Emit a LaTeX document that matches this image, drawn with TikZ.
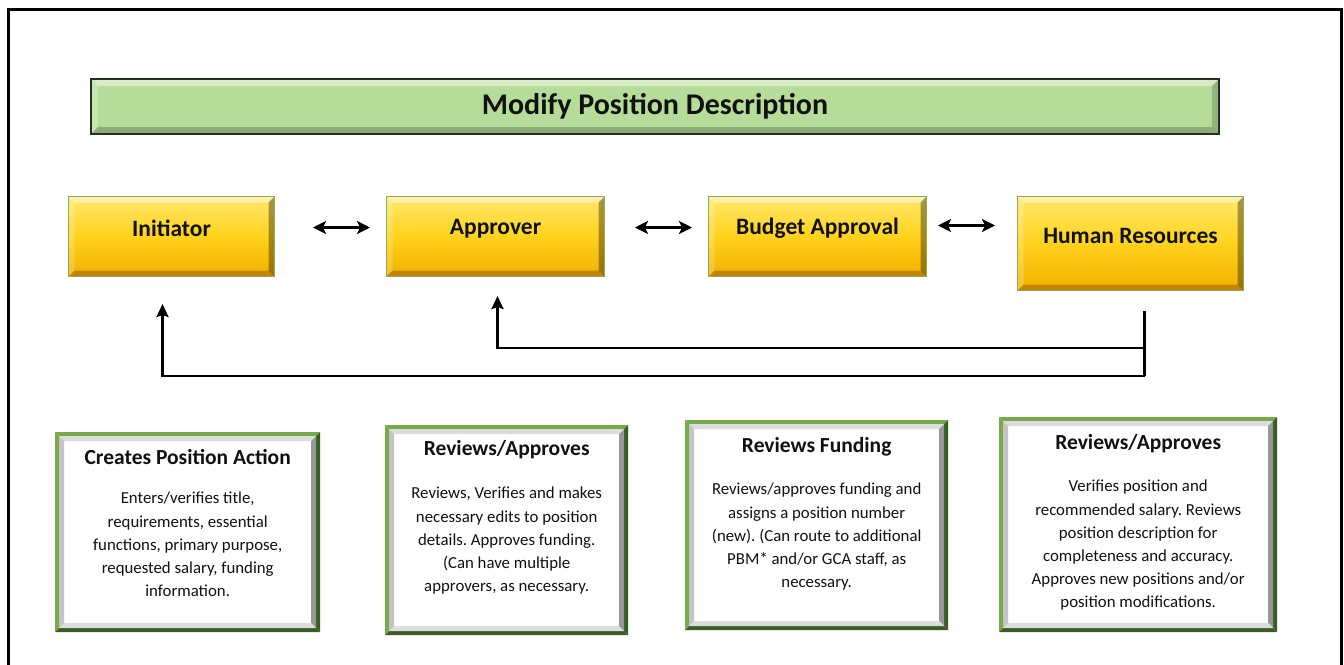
\documentclass[tikz,border=0pt]{standalone}
\usepackage{fontspec}
\setmainfont{Carlito}
\frenchspacing
\usetikzlibrary{arrows.meta,calc}

\definecolor{barFill}{HTML}{B5DC98}
\definecolor{barEdge}{HTML}{26301F}
\definecolor{yTop}{HTML}{FFE86E}
\definecolor{yMid}{HTML}{FFD21C}
\definecolor{yBot}{HTML}{F2B000}
\definecolor{yEdge}{HTML}{93A95A}
\definecolor{gLight}{HTML}{78AA4B}
\definecolor{gDark}{HTML}{3B5C25}
\definecolor{frLight}{HTML}{DCDCDC}
\definecolor{frMid}{HTML}{C4C4C4}
\definecolor{frDark}{HTML}{979797}
\definecolor{ink}{HTML}{111111}

% four bevel trapezoids between two insets of the current path picture
\newcommand\bevelring[6]{%
  \coordinate (ppA) at ([xshift=#1,yshift=-#1]path picture bounding box.north west);
  \coordinate (ppB) at ([xshift=-#1,yshift=-#1]path picture bounding box.north east);
  \coordinate (ppC) at ([xshift=-#1,yshift=#1]path picture bounding box.south east);
  \coordinate (ppD) at ([xshift=#1,yshift=#1]path picture bounding box.south west);
  \coordinate (ppa) at ([xshift=#2,yshift=-#2]path picture bounding box.north west);
  \coordinate (ppb) at ([xshift=-#2,yshift=-#2]path picture bounding box.north east);
  \coordinate (ppc) at ([xshift=-#2,yshift=#2]path picture bounding box.south east);
  \coordinate (ppd) at ([xshift=#2,yshift=#2]path picture bounding box.south west);
  \fill[#3] (ppA) -- (ppB) -- (ppb) -- (ppa) -- cycle;
  \fill[#4] (ppA) -- (ppD) -- (ppd) -- (ppa) -- cycle;
  \fill[#5] (ppB) -- (ppC) -- (ppc) -- (ppb) -- cycle;
  \fill[#6] (ppD) -- (ppC) -- (ppc) -- (ppd) -- cycle;
}

\tikzset{
  titlebar/.style={anchor=north west, inner sep=0pt, draw=barEdge, line width=2pt,
    fill=barFill, text=ink, font=\fontsize{30}{36}\selectfont\bfseries,
    path picture={\bevelring{0pt}{7pt}{white,opacity=.45}{white,opacity=.25}{black,opacity=.18}{black,opacity=.22}}},
  yelbox/.style={anchor=north west, inner sep=0pt, draw=yEdge, line width=1pt,
    top color=yTop, bottom color=yBot, middle color=yMid,
    path picture={\bevelring{0pt}{6pt}{white,opacity=.45}{white,opacity=.2}{black,opacity=.35}{black!60!orange,opacity=.35}}},
  yellbl/.style={text=ink, font=\fontsize{23.5}{28}\selectfont\bfseries},
  botbox/.style={anchor=north west, inner sep=0pt, fill=white,
    path picture={\bevelring{0pt}{4pt}{gLight}{gLight}{gDark}{gDark}%
      \bevelring{4pt}{9pt}{frLight}{frMid}{frDark}{frLight}}},
  bottitle/.style={anchor=center, text=ink, font=\fontsize{21.5}{26}\selectfont\bfseries},
  botbody/.style={anchor=north, align=center, inner sep=0pt, text=ink,
    font=\fontsize{16.8}{23.2}\selectfont},
  dbl/.style={{Stealth[length=13pt,width=13pt,inset=3pt]}-{Stealth[length=13pt,width=13pt,inset=3pt]}, line width=2.8pt},
  fb/.style={-{Stealth[length=13pt,width=12pt,inset=2pt]}, line width=2.8pt, line join=miter},
}

\begin{document}
\begin{tikzpicture}[x=1pt,y=-1pt]
\useasboundingbox (0,0) rectangle (1344,664);

% page frame
\draw[line width=3pt] (8,672) -- (8,9.5) -- (1341,9.5) -- (1341,672);

% heading bar
\node[titlebar, minimum width=1128pt, minimum height=55pt] (head) at (90,78) {Modify Position Description};

% role boxes
\node[yelbox, minimum width=206pt, minimum height=80pt] (init) at (68,196) {};
\node[yelbox, minimum width=218pt, minimum height=80pt] (appr) at (386,196) {};
\node[yelbox, minimum width=218pt, minimum height=80pt] (budg) at (708,196) {};
\node[yelbox, minimum width=226pt, minimum height=94pt] (hr) at (1017,196) {};
\node[yellbl] (initL) at ([yshift=8pt]init.center) {Initiator};
\node[yellbl] (apprL) at ([yshift=8pt]appr.center) {Approver};
\node[yellbl] (budgL) at ([yshift=8pt]budg.center) {Budget Approval};
\node[yellbl] (hrL) at ([yshift=8pt]hr.center) {Human Resources};

% two-way links between roles
\draw[dbl, shorten <=38pt, shorten >=16pt] ([yshift=9pt]init.east) -- ([yshift=9pt]appr.west);
\draw[dbl, shorten <=30pt, shorten >=16pt] ([yshift=9pt]appr.east) -- ([yshift=9pt]budg.west);
\draw[dbl, shorten <=11pt, shorten >=22pt] ([yshift=11pt]budg.east) -- ([yshift=18pt]hr.west);

% returns from Human Resources
\coordinate (tap) at ([xshift=14pt,yshift=-20pt]hr.south);
\coordinate (tapLow) at (tap |- 0,376);
\coordinate (tapMid) at (tap |- 0,348);
\draw[line width=2.8pt] (tap) -- (tapLow);
\draw[fb] (tapLow) -| ([xshift=-9pt,yshift=-27pt]init.south);
\draw[fb] (tapMid) -| ([xshift=2pt,yshift=-19pt]appr.south);

% task descriptions
\node[botbox, minimum width=265pt, minimum height=200pt] (d1) at (55,432) {};
\node[botbox, minimum width=243pt, minimum height=210pt] (d2) at (385,425) {};
\node[botbox, minimum width=263pt, minimum height=210pt] (d3) at (685,420) {};
\node[botbox, minimum width=278pt, minimum height=215pt] (d4) at (999,417) {};

\node[bottitle] (d1t) at ([yshift=-25pt]d1.north) {Creates Position Action};
\node[botbody] (d1b) at ([yshift=-60pt]d1.north) {Enters/verifies title,\\requirements, essential\\functions, primary purpose,\\requested salary, funding\\information.};

\node[bottitle] (d2t) at ([yshift=-25pt]d2.north) {Reviews/Approves};
\node[botbody] (d2b) at ([yshift=-62pt]d2.north) {Reviews, Verifies and makes\\necessary edits to position\\details. Approves funding.\\(Can have multiple\\approvers, as necessary.};

\node[bottitle] (d3t) at ([yshift=-27pt]d3.north) {Reviews Funding};
\node[botbody] (d3b) at ([yshift=-63pt]d3.north) {Reviews/approves funding and\\assigns a position number\\(new). (Can route to additional\\PBM* and/or GCA staff, as\\necessary.};

\node[bottitle] (d4t) at ([yshift=-27pt]d4.north) {Reviews/Approves};
\node[botbody] (d4b) at ([yshift=-63pt]d4.north) {Verifies position and\\recommended salary. Reviews\\position description for\\completeness and accuracy.\\Approves new positions and/or\\position modifications.};
\end{tikzpicture}
\end{document}
